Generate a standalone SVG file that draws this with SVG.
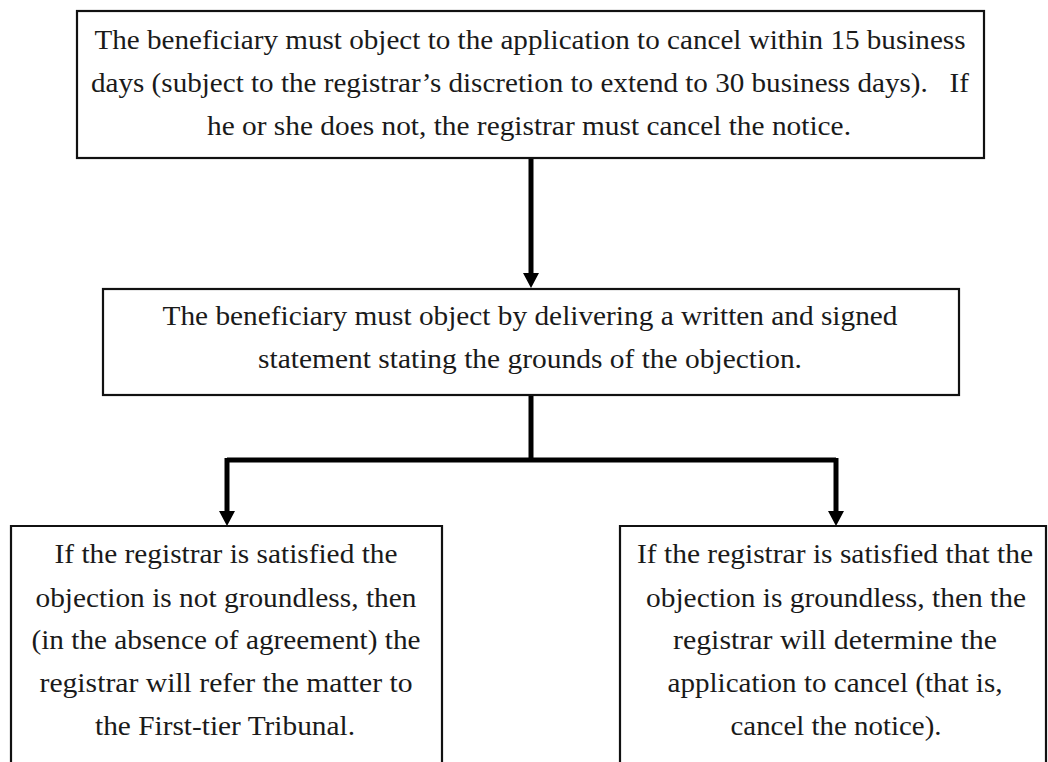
<svg xmlns="http://www.w3.org/2000/svg" width="1048" height="762" viewBox="0 0 1048 762">
<style>
.box{fill:#fff;stroke:#111;stroke-width:2.2}
.t{font-family:"Liberation Serif","Times New Roman",serif;font-size:28px;fill:#1a1a1a;text-anchor:middle}
.c{fill:none;stroke:#000;stroke-width:5}
.ah{fill:#000}
</style>
<rect width="1048" height="762" fill="#fff"/>
<g id="connectors">
<path class="c" d="M531,159 V274"/>
<polygon class="ah" points="523,273 539,273 531,288"/>
<path class="c" d="M531,396 V460"/>
<path class="c" d="M227,460 H836"/>
<path class="c" d="M227,458 V512"/>
<polygon class="ah" points="219,511 235,511 227,526"/>
<path class="c" d="M836,458 V512"/>
<polygon class="ah" points="828,511 844,511 836,526"/>
</g>
<g id="n1">
<rect class="box" x="77" y="11" width="907" height="147"/>
<text class="t" x="530" y="49" textLength="871" lengthAdjust="spacingAndGlyphs">The beneficiary must object to the application to cancel within 15 business</text>
<text class="t" x="530" y="92" textLength="878" lengthAdjust="spacingAndGlyphs" xml:space="preserve">days (subject to the registrar’s discretion to extend to 30 business days).   If</text>
<text class="t" x="529" y="135" textLength="644" lengthAdjust="spacingAndGlyphs">he or she does not, the registrar must cancel the notice.</text>
</g>
<g id="n2">
<rect class="box" x="103" y="289" width="856" height="106"/>
<text class="t" x="530" y="325" textLength="735" lengthAdjust="spacingAndGlyphs">The beneficiary must object by delivering a written and signed</text>
<text class="t" x="530" y="368" textLength="544" lengthAdjust="spacingAndGlyphs">statement stating the grounds of the objection.</text>
</g>
<g id="n3">
<path class="box" d="M11,770 V526 H442 V770"/>
<text class="t" x="226" y="563" textLength="343" lengthAdjust="spacingAndGlyphs">If the registrar is satisfied the</text>
<text class="t" x="226" y="607" textLength="381" lengthAdjust="spacingAndGlyphs">objection is not groundless, then</text>
<text class="t" x="226" y="649" textLength="389" lengthAdjust="spacingAndGlyphs">(in the absence of agreement) the</text>
<text class="t" x="226" y="692" textLength="373" lengthAdjust="spacingAndGlyphs">registrar will refer the matter to</text>
<text class="t" x="225" y="735" textLength="260" lengthAdjust="spacingAndGlyphs">the First-tier Tribunal.</text>
</g>
<g id="n4">
<path class="box" d="M620,770 V526 H1046 V770"/>
<text class="t" x="835" y="563" textLength="396" lengthAdjust="spacingAndGlyphs">If the registrar is satisfied that the</text>
<text class="t" x="836" y="607" textLength="380" lengthAdjust="spacingAndGlyphs">objection is groundless, then the</text>
<text class="t" x="835" y="649" textLength="324" lengthAdjust="spacingAndGlyphs">registrar will determine the</text>
<text class="t" x="835" y="692" textLength="335" lengthAdjust="spacingAndGlyphs">application to cancel (that is,</text>
<text class="t" x="836" y="735" textLength="211" lengthAdjust="spacingAndGlyphs">cancel the notice).</text>
</g>
</svg>
